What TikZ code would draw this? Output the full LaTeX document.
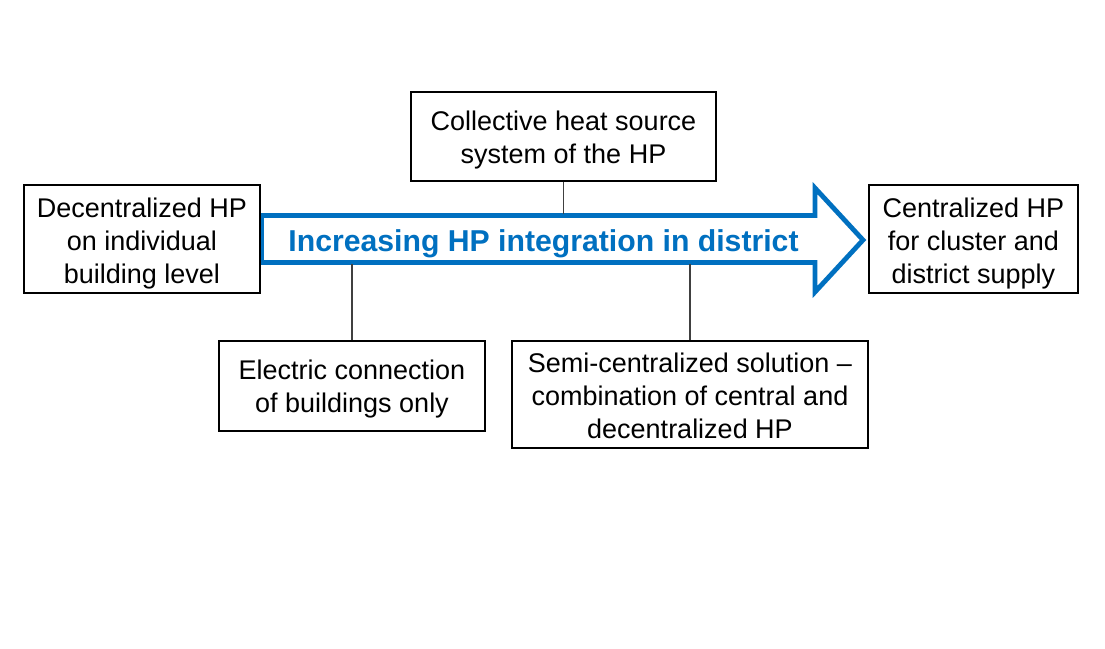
\documentclass[tikz,border=0pt]{standalone}
\usepackage{fontspec}
\setmainfont{Liberation Sans}
\definecolor{hpblue}{RGB}{0,112,192}
\definecolor{conn}{RGB}{64,64,64}
\newcommand{\boxlines}[2]{\raisebox{-#1}[\height][\depth]{\begin{tabular}{@{}c@{}}#2\end{tabular}}}
\begin{document}
\begin{tikzpicture}[x=0.5pt,y=-0.5pt,
  box/.style={draw=black,line width=0.8pt,rectangle,inner sep=0pt,
    font=\fontsize{13.5}{16.5}\selectfont,fill=white},
  connector/.style={draw=conn,line width=0.7pt},
  bigarrow/.style={draw=hpblue,line width=2.4pt,line join=miter,miter limit=10,fill=white}]
\useasboundingbox (0,0) rectangle (1105,649);
% arrow
\draw[bigarrow] (261.5,215.5) -- (815,215.5) -- (815,188) -- (863,240) -- (815,292) -- (815,262.5) -- (261.5,262.5) -- cycle;
\coordinate (atop) at (563,214);
\coordinate (abot) at (563,264);
\node[text=hpblue,font=\fontsize{15.1}{18}\selectfont\bfseries] (atext) at (543.5,244) {Increasing HP integration in district};
% boxes
\node[box,minimum width=236*0.5pt,minimum height=108*0.5pt] (dec) at (142,239) {\boxlines{2.3pt}{Decentralized HP\\on individual\\building level}};
\node[box,minimum width=305*0.5pt,minimum height=89*0.5pt] (col) at (563.5,136.5) {\boxlines{2pt}{Collective heat source\\system of the HP}};
\node[box,minimum width=266*0.5pt,minimum height=90*0.5pt] (ele) at (352,386) {\boxlines{1.5pt}{Electric connection\\of buildings only}};
\node[box,minimum width=356*0.5pt,minimum height=107*0.5pt] (semi) at (690,394.5) {\boxlines{2pt}{Semi-centralized solution \textendash\\combination of central and\\decentralized HP}};
\node[box,minimum width=209*0.5pt,minimum height=108*0.5pt] (cen) at (973.5,239) {\boxlines{2.5pt}{Centralized HP\\for cluster and\\district supply}};
% connectors
\draw[connector] (col.south) -- (col.south |- atop);
\draw[connector] (ele.north) -- (ele.north |- abot);
\draw[connector] (semi.north) -- (semi.north |- abot);
\end{tikzpicture}
\end{document}
